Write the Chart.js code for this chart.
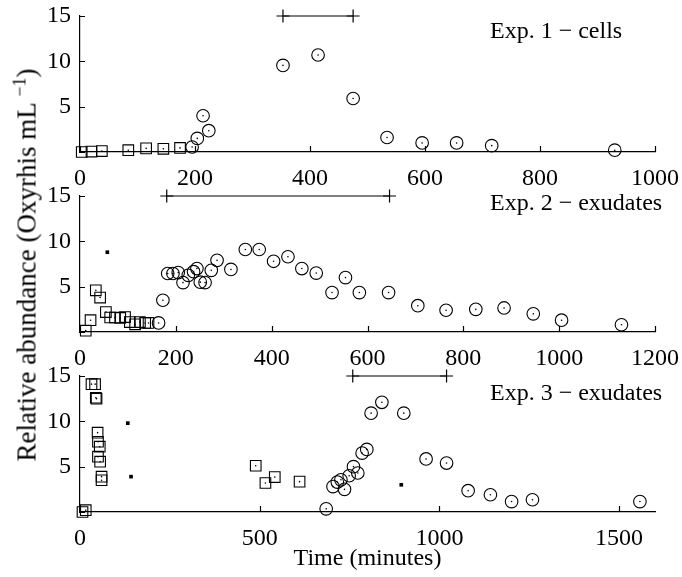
<!DOCTYPE html>
<html>
<head>
<meta charset="utf-8">
<script src="https://cdn.jsdelivr.net/npm/chart.js@4"></script>
<style>
  body { margin: 0; background: #fff; }
  #wrap { position: relative; width: 682px; height: 577px; font-family: "Liberation Serif", serif; }
  canvas { position: absolute; left: 0; }
  #ylabel {
    position: absolute; left: 26px; top: 265px; white-space: nowrap;
    font-size: 27px; color: #000; transform: translate(-50%, -50%) rotate(-90deg);
  }
  #ylabel sup { font-size: 18px; }
</style>
</head>
<body>
<div id="wrap">
  <canvas id="c1" style="top:0" width="682" height="200"></canvas>
  <canvas id="c2" style="top:180px" width="682" height="200"></canvas>
  <canvas id="c3" style="top:360px" width="682" height="217"></canvas>
  <div id="ylabel">Relative abundance (Oxyrhis mL <sup>−1</sup>)</div>
</div>
<script>
// Exp. 1 - cells
const exp1SquareT = [3, 20, 38, 84, 115, 145, 174];
const exp1SquareV = [0.0, 0.05, 0.1, 0.2, 0.4, 0.35, 0.45];
const exp1CircleT = [195, 204, 214, 224, 353, 414, 475, 534, 595, 655, 716, 930];
const exp1CircleV = [0.55, 1.5, 4.0, 2.35, 9.55, 10.7, 5.9, 1.6, 1.0, 1.0, 0.7, 0.2];
const exp1DotT = [];
const exp1DotV = [];
const exp1Bar = [353, 475];
const exp1Ticks = [0, 200, 400, 600, 800, 1000];

// Exp. 2 - exudates
const exp2SquareT = [12, 22, 33, 42, 54, 63, 73, 84, 94, 104, 115, 125, 136, 143];
const exp2SquareV = [0.15, 1.3, 4.6, 3.8, 2.2, 1.6, 1.6, 1.55, 1.65, 1.1, 0.85, 1.1, 1.0, 1.0];
const exp2CircleT = [164, 173, 183, 194, 205, 215, 226, 237, 244, 251, 261, 274, 286, 315, 345, 374, 404, 434, 463, 493, 526, 554, 583, 644, 705, 764, 826, 885, 946, 1005, 1130];
const exp2CircleV = [1.0, 3.5, 6.45, 6.45, 6.55, 5.45, 6.25, 6.65, 7.0, 5.5, 5.45, 6.8, 7.9, 6.9, 9.1, 9.1, 7.8, 8.3, 7.0, 6.5, 4.35, 6.0, 4.35, 4.35, 2.9, 2.4, 2.5, 2.65, 2.0, 1.3, 0.8];
const exp2DotT = [57];
const exp2DotV = [8.8];
const exp2Bar = [181, 646];
const exp2Ticks = [0, 200, 400, 600, 800, 1000, 1200];

// Exp. 3 - exudates
const exp3SquareT = [7, 16, 32, 42, 44, 46, 49, 50, 55, 50, 56, 60, 60, 489, 516, 542, 611];
const exp3SquareV = [0.0, 0.2, 14.1, 14.1, 12.6, 12.5, 8.75, 7.75, 7.2, 6.1, 5.55, 3.9, 3.5, 5.1, 3.2, 3.85, 3.35];
const exp3CircleT = [685, 704, 716, 726, 736, 749, 761, 773, 785, 798, 810, 840, 901, 963, 1020, 1080, 1142, 1201, 1259, 1558];
const exp3CircleV = [0.35, 2.8, 3.3, 3.55, 2.5, 4.0, 5.0, 4.3, 6.5, 6.9, 10.9, 12.1, 10.9, 5.85, 5.4, 2.35, 1.9, 1.15, 1.35, 1.15];
const exp3DotT = [133, 142, 894];
const exp3DotV = [9.8, 3.9, 3.0];
const exp3Bar = [759, 1020];
const exp3Ticks = [0, 500, 1000, 1500];

const yTicks = [0, 5, 10, 15];
const FONT = { family: "Liberation Serif", size: 24 };

const pts = (t, v) => t.map((x, i) => ({ x: x, y: v[i] }));

// inward tick marks + panel caption
const panelDeco = {
  id: "panelDeco",
  afterDraw(chart, args, opts) {
    const { ctx, chartArea, scales } = chart;
    ctx.save();
    ctx.strokeStyle = "#000";
    ctx.lineWidth = 1.2;
    ctx.beginPath();
    scales.x.ticks.forEach(t => {
      const px = Math.round(scales.x.getPixelForValue(t.value)) + 0.5;
      ctx.moveTo(px, chartArea.bottom);
      ctx.lineTo(px, chartArea.bottom - 6);
    });
    scales.y.ticks.forEach(t => {
      const py = Math.round(scales.y.getPixelForValue(t.value)) + 0.5;
      ctx.moveTo(chartArea.left, py);
      ctx.lineTo(chartArea.left + 5, py);
    });
    ctx.stroke();
    ctx.fillStyle = "#000";
    ctx.font = "24px 'Liberation Serif'";
    ctx.textBaseline = "middle";
    ctx.fillText(opts.text, 490, chartArea.top + opts.dy);
    ctx.restore();
  }
};

function makePanel(id, sq, ci, dots, bar, xMax, xTicks, caption, dy, title) {
  const datasets = [
    { data: sq, pointStyle: "rect", pointRadius: 7.5, borderColor: "#000", backgroundColor: "rgba(0,0,0,0)", pointBorderWidth: 1.1 },
    { data: sq, pointStyle: "circle", pointRadius: 0.8, borderWidth: 0, backgroundColor: "#000" },
    { data: ci, pointStyle: "circle", pointRadius: 6.3, borderColor: "#000", backgroundColor: "rgba(0,0,0,0)", pointBorderWidth: 1.1 },
    { data: ci, pointStyle: "circle", pointRadius: 0.8, borderWidth: 0, backgroundColor: "#000" },
    { data: dots, pointStyle: "rect", pointRadius: 2.6, borderWidth: 0, backgroundColor: "#000" },
    { type: "line", data: bar.map(x => ({ x: x, y: 15 })), showLine: true, borderColor: "#000", borderWidth: 1.2,
      pointStyle: "cross", pointRadius: 6.5, pointBorderWidth: 1.2, pointBorderColor: "#000" }
  ];
  datasets.forEach(d => { d.clip = false; });

  return new Chart(document.getElementById(id), {
    type: "scatter",
    data: { datasets: datasets },
    options: {
      responsive: false,
      animation: false,
      events: [],
      layout: { padding: { top: 16, right: 27, left: 0, bottom: 0 } },
      plugins: {
        legend: { display: false },
        tooltip: { enabled: false },
        panelDeco: { text: caption, dy: dy }
      },
      scales: {
        x: {
          type: "linear", min: 0, max: xMax,
          afterBuildTicks: s => { s.ticks = xTicks.map(v => ({ value: v })); },
          afterFit: s => { s.height = title ? 65 : 48; s.paddingLeft = 0; s.paddingRight = 0; },
          ticks: { color: "#000", font: FONT, padding: 4, maxRotation: 0, autoSkip: false, callback: v => String(v) },
          grid: { display: false },
          border: { color: "#000", width: 1.2 },
          title: title ? { display: true, text: title, color: "#000", font: FONT, padding: { top: 0, bottom: 4 } } : { display: false }
        },
        y: {
          min: 0, max: 15,
          afterBuildTicks: s => { s.ticks = yTicks.map(v => ({ value: v })); },
          afterFit: s => { s.width = 80; s.paddingTop = 0; s.paddingBottom = 0; },
          ticks: { color: "#000", font: FONT, padding: 1, callback: v => v === 0 ? "" : String(v) },
          grid: { display: false },
          border: { color: "#000", width: 1.2 }
        }
      }
    },
    plugins: [panelDeco]
  });
}

makePanel("c1", pts(exp1SquareT, exp1SquareV), pts(exp1CircleT, exp1CircleV), pts(exp1DotT, exp1DotV), exp1Bar, 1000, exp1Ticks, "Exp. 1 − cells", 16, null);
makePanel("c2", pts(exp2SquareT, exp2SquareV), pts(exp2CircleT, exp2CircleV), pts(exp2DotT, exp2DotV), exp2Bar, 1200, exp2Ticks, "Exp. 2 − exudates", 8, null);
makePanel("c3", pts(exp3SquareT, exp3SquareV), pts(exp3CircleT, exp3CircleV), pts(exp3DotT, exp3DotV), exp3Bar, 1600, exp3Ticks, "Exp. 3 − exudates", 18, "Time (minutes)");
</script>
</body>
</html>
